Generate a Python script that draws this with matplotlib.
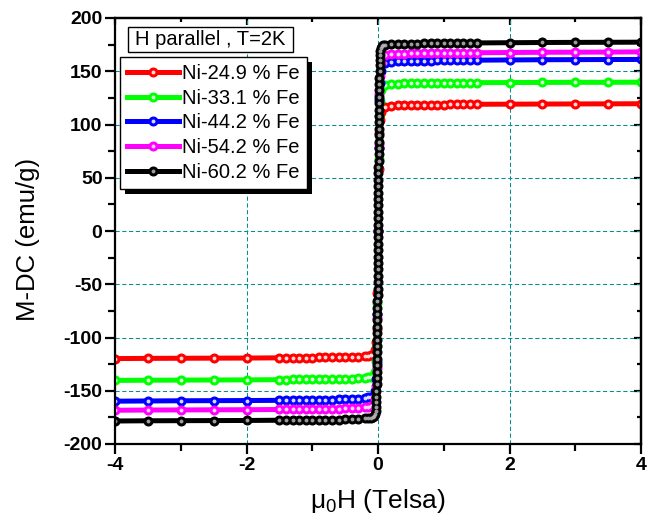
import matplotlib
matplotlib.use('Agg')
import matplotlib.pyplot as plt
from matplotlib.patches import Rectangle
from matplotlib.ticker import MultipleLocator

plt.rcParams['font.family'] = ['Liberation Sans', 'DejaVu Sans']
plt.rcParams['mathtext.fontset'] = 'custom'
plt.rcParams['mathtext.rm'] = 'Liberation Sans'
plt.rcParams['axes.unicode_minus'] = False

# field grid (Tesla) shared by all samples
H_neg = [-4.0, -3.5, -3.0, -2.5, -2.0, -1.5, -1.4, -1.3, -1.2, -1.1, -1.0, -0.9, -0.8, -0.7,
         -0.6, -0.5, -0.4, -0.3, -0.2, -0.15]
H_mid = [-0.1, -0.05, -0.03, -0.02, -0.01, 0.0, 0.01, 0.02, 0.03, 0.05]
H_pos = [0.1, 0.2, 0.3, 0.4, 0.5, 0.6, 0.7, 0.8, 0.9, 1.0, 1.1, 1.2, 1.3, 1.4, 1.5,
         2.0, 2.5, 3.0, 3.5, 4.0]

labels = ['Ni-24.9 % Fe', 'Ni-33.1 % Fe', 'Ni-44.2 % Fe', 'Ni-54.2 % Fe', 'Ni-60.2 % Fe']
colors = ['#ff0000', '#00ff00', '#0000ff', '#ff00ff', '#000000']

M_neg_249 = [-119.8, -119.6, -119.5, -119.4, -119.3, -119.1, -119.0, -118.9, -118.9, -118.8,
             -118.8, -118.7, -118.7, -118.6, -118.5, -118.4, -118.3, -118.1, -117.7, -117.2]
M_mid_249 = [-116.0, -112.0, -104.0, -92.0, -58.0, 0.0, 58.0, 92.0, 104.0, 112.0]
M_pos_249 = [116.8, 117.6, 117.9, 118.1, 118.3, 118.4, 118.5, 118.6, 118.7, 118.7,
             118.8, 118.8, 118.9, 118.9, 119.0, 119.1, 119.2, 119.3, 119.4, 119.5]

M_neg_331 = [-140.3, -140.1, -140.0, -139.9, -139.8, -139.6, -139.5, -139.4, -139.4, -139.3,
             -139.3, -139.2, -139.1, -139.0, -138.9, -138.8, -138.6, -138.4, -138.0, -137.4]
M_mid_331 = [-137.0, -132.0, -122.0, -108.0, -68.0, 0.0, 68.0, 108.0, 122.0, 132.0]
M_pos_331 = [137.2, 138.0, 138.3, 138.5, 138.7, 138.8, 138.9, 139.0, 139.0, 139.1,
             139.1, 139.2, 139.2, 139.3, 139.3, 139.4, 139.5, 139.6, 139.6, 139.7]

M_neg_442 = [-159.8, -159.6, -159.4, -159.3, -159.2, -159.0, -158.9, -158.8, -158.7, -158.6,
             -158.6, -158.5, -158.4, -158.3, -158.2, -158.0, -157.8, -157.5, -157.0, -156.3]
M_mid_442 = [-156.0, -150.0, -139.0, -123.0, -78.0, 0.0, 78.0, 123.0, 139.0, 150.0]
M_pos_442 = [157.8, 158.8, 159.2, 159.5, 159.7, 159.8, 159.9, 160.0, 160.1, 160.1,
             160.2, 160.2, 160.3, 160.3, 160.4, 160.6, 160.8, 160.9, 161.0, 161.1]

M_neg_542 = [-168.3, -168.1, -168.0, -167.9, -167.8, -167.6, -167.5, -167.4, -167.3, -167.2,
             -167.2, -167.1, -167.0, -166.9, -166.8, -166.6, -166.4, -166.1, -165.6, -164.9]
M_mid_542 = [-164.0, -158.0, -146.0, -129.0, -82.0, 0.0, 82.0, 129.0, 146.0, 158.0]
M_pos_542 = [165.0, 166.0, 166.4, 166.6, 166.8, 166.9, 167.0, 167.1, 167.1, 167.2,
             167.2, 167.3, 167.3, 167.4, 167.4, 167.6, 167.8, 167.9, 168.0, 168.2]

M_neg_602 = [-178.4, -178.2, -178.1, -178.0, -177.9, -177.7, -177.6, -177.5, -177.5, -177.4,
             -177.3, -177.3, -177.2, -177.1, -177.0, -176.8, -176.6, -176.4, -176.0, -175.6]
M_pos_602 = [174.6, 175.3, 175.6, 175.8, 175.9, 176.0, 176.1, 176.2, 176.3, 176.3,
             176.4, 176.4, 176.5, 176.5, 176.6, 176.8, 177.0, 177.1, 177.2, 177.3]
# Ni-60.2 % Fe was measured densely through the switching field
H_mid_602 = [-0.1, -0.08, -0.06, -0.0425, -0.0377, -0.0335, -0.0305, -0.0276, -0.0249, -0.0228,
             -0.0209, -0.0193, -0.0178, -0.0165, -0.0153, -0.0142, -0.0131, -0.0122, -0.0112,
             -0.0103, -0.0095, -0.0086, -0.0078, -0.0071, -0.0063, -0.0056, -0.0048, -0.0041,
             -0.0034, -0.0027, -0.0020, -0.0014, -0.0007, 0.0, 0.0007, 0.0014, 0.0020, 0.0027,
             0.0034, 0.0041, 0.0048, 0.0056, 0.0063, 0.0071, 0.0078, 0.0086, 0.0095, 0.0103,
             0.0112, 0.0122, 0.0131, 0.0142, 0.0153, 0.0165, 0.0178, 0.0193, 0.0209, 0.0228,
             0.0249, 0.0276, 0.0305, 0.0335, 0.0377, 0.0425, 0.06, 0.08]
M_mid_602 = [-175.2, -174.7, -173.8, -172.0, -169.0, -165.0, -161.0, -156.0, -150.0, -144.0,
             -138.0, -132.0, -126.0, -120.0, -114.0, -108.0, -102.0, -96.0, -90.0,
             -84.0, -78.0, -72.0, -66.0, -60.0, -54.0, -48.0, -42.0, -36.0,
             -30.0, -24.0, -18.0, -12.0, -6.0, 0.0, 6.0, 12.0, 18.0, 24.0,
             30.0, 36.0, 42.0, 48.0, 54.0, 60.0, 66.0, 72.0, 78.0, 84.0,
             90.0, 96.0, 102.0, 108.0, 114.0, 120.0, 126.0, 132.0, 138.0, 144.0,
             150.0, 156.0, 161.0, 165.0, 169.0, 172.0, 173.6, 174.2]

curves = [
    (H_neg + H_mid + H_pos, M_neg_249 + M_mid_249 + M_pos_249),
    (H_neg + H_mid + H_pos, M_neg_331 + M_mid_331 + M_pos_331),
    (H_neg + H_mid + H_pos, M_neg_442 + M_mid_442 + M_pos_442),
    (H_neg + H_mid + H_pos, M_neg_542 + M_mid_542 + M_pos_542),
    (H_neg + H_mid_602 + H_pos, M_neg_602 + M_mid_602 + M_pos_602),
]

fig = plt.figure(figsize=(6.5, 5.27), dpi=100)
ax = fig.add_axes([115 / 650, 83 / 527, 526 / 650, 426 / 527])

handles = []
for (h, m), c, lab in zip(curves, colors, labels):
    hl_col = '#b8b8b8' if c == '#000000' else 'white'
    line, = ax.plot(h, m, '-o', color=c, lw=3.6, ms=6.2, mec=c, mfc=c, label=lab)
    spot, = ax.plot(h, m, 'o', ls='none', ms=2.8, mfc=hl_col, mec='none', alpha=0.85)
    handles.append((line, spot))

ax.set_xlim(-4, 4)
ax.set_ylim(-200, 200)
ax.xaxis.set_major_locator(MultipleLocator(2))
ax.xaxis.set_minor_locator(MultipleLocator(1))
ax.yaxis.set_major_locator(MultipleLocator(50))
ax.yaxis.set_minor_locator(MultipleLocator(25))
ax.grid(True, which='major', color='#009090', ls=(0, (4, 2.5)), lw=0.75)

for s in ax.spines.values():
    s.set_linewidth(1.6)
ax.tick_params(which='both', direction='out', width=1.6, labelsize=14, pad=2)
ax.tick_params(which='major', length=7)
ax.tick_params(which='minor', length=5)
for t in ax.get_xticklabels() + ax.get_yticklabels():
    t.set_fontweight('bold')

# small inward ticks on the top and right frame
top = ax.secondary_xaxis('top')
top.xaxis.set_major_locator(MultipleLocator(2))
top.xaxis.set_minor_locator(MultipleLocator(1))
top.tick_params(which='both', direction='in', width=1.6, labeltop=False)
top.tick_params(which='major', length=5)
top.tick_params(which='minor', length=3)
right = ax.secondary_yaxis('right')
right.yaxis.set_major_locator(MultipleLocator(50))
right.yaxis.set_minor_locator(MultipleLocator(25))
right.tick_params(which='both', direction='in', width=1.6, labelright=False)
right.tick_params(which='major', length=5)
right.tick_params(which='minor', length=3)
for sec in (top, right):
    for s in sec.spines.values():
        s.set_linewidth(1.6)

ax.set_xlabel('μ$_\\mathregular{0}$H (Telsa)', fontsize=19)
ax.xaxis.set_label_coords(0.5, -0.10)
ax.set_ylabel('M-DC (emu/g)', fontsize=18.5)
ax.yaxis.set_label_coords(-0.143, 0.48)

# condition box
ax.add_patch(Rectangle((13 / 526, 392 / 426), 165 / 526, 25 / 426, transform=ax.transAxes,
                       fc='white', ec='black', lw=1, zorder=6, clip_on=False))
ax.text(13 / 526 + 82.5 / 526, 404.5 / 426, 'H parallel , T=2K', transform=ax.transAxes,
        ha='center', va='center', fontsize=14.5, zorder=7)

leg = ax.legend(handles, labels, loc='upper left', bbox_to_anchor=(5 / 526, 387 / 426),
                borderaxespad=0, fontsize=14.5, frameon=True, fancybox=False,
                edgecolor='black', framealpha=1, handlelength=2.6, handletextpad=0.15,
                labelspacing=0.28, borderpad=0.35, numpoints=1)
leg.get_frame().set_linewidth(1)
leg.set_zorder(6)

# solid drop shadow behind the legend
fig.canvas.draw()
bb = leg.get_window_extent().transformed(ax.transAxes.inverted())
ax.add_patch(Rectangle((bb.x0 + 5 / 526, bb.y0 - 5 / 426), bb.width, bb.height,
                       transform=ax.transAxes, fc='black', ec='none', zorder=5.5,
                       clip_on=False))

fig.savefig('out.png', dpi=100)
